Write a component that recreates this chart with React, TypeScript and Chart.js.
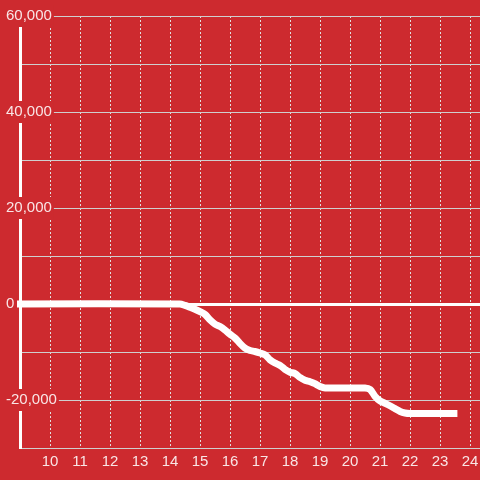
import React, { useEffect, useRef } from "react";
import { Chart, registerables } from "chart.js";

Chart.register(...registerables);

// Time of day (hours) and cumulative value
const hours = [8.9, 14.33, 14.5, 14.67, 14.83, 15.0, 15.17, 15.33, 15.5, 15.67, 15.83, 16.0, 16.17, 16.33, 16.5, 16.67, 16.83, 17.0, 17.17, 17.33, 17.5, 17.67, 17.83, 18.0, 18.17, 18.33, 18.5, 18.67, 18.83, 19.0, 19.17, 20.5, 20.67, 20.83, 21.0, 21.17, 21.33, 21.5, 21.67, 21.83, 22.0, 23.58];
const values = [0, 0, -300, -700, -1100, -1600, -2200, -3300, -4200, -4700, -5400, -6300, -7100, -8200, -9200, -9700, -9900, -10200, -10600, -11600, -12300, -12800, -13600, -14200, -14500, -15300, -15900, -16200, -16600, -17200, -17500, -17500, -17800, -19200, -20200, -20700, -21200, -21800, -22400, -22700, -22800, -22800];

const xMin = 9;
const xMax = 24.333;
const yMin = -30000;
const yMax = 60000;
const yStep = 10000;
const yLabelStep = 20000;

const RED = "#cd2a2f";
const TEXT = "rgba(255,255,255,0.88)";
const FONT = { family: "'Liberation Sans', Arial, sans-serif", size: 15 };

const isLabeled = (v: number) => v % yLabelStep === 0 && v !== yMin;

export default function App() {
  const ref = useRef<HTMLCanvasElement>(null);
  useEffect(() => {
    const canvas = ref.current!;
    const chart = new Chart(canvas, {
      type: "line",
      data: {
        datasets: [
          {
            data: hours.map((h, i) => ({ x: h, y: values[i] })),
            borderColor: "#ffffff",
            borderWidth: 7,
            pointRadius: 0,
            tension: 0.3,
            fill: false,
            clip: false as any,
          },
        ],
      },
      options: {
        animation: false,
        responsive: false,
        devicePixelRatio: 1,
        layout: { padding: { left: 6, top: 16, right: 0, bottom: 0 } },
        plugins: { legend: { display: false }, tooltip: { enabled: false } },
        scales: {
          x: {
            type: "linear",
            min: xMin,
            max: xMax,
            afterFit: (s: any) => {
              s.height = 32;
              s.paddingLeft = 0;
              s.paddingRight = 0;
            },
            ticks: {
              stepSize: 1,
              includeBounds: false,
              color: TEXT,
              font: FONT,
              padding: 5,
              maxRotation: 0,
              autoSkip: false,
              callback: (v: any) => (v === xMin ? "" : String(v)),
            },
            grid: {
              color: "#e0e0e0",
              lineWidth: 1,
              drawTicks: false,
            },
            border: { display: false, dash: [2, 2] },
          },
          y: {
            min: yMin,
            max: yMax,
            afterFit: (s: any) => {
              s.width = 14;
            },
            ticks: {
              stepSize: yStep,
              color: TEXT,
              font: FONT,
              mirror: true,
              padding: -14,
              callback: (v: any) => (isLabeled(Number(v)) ? Number(v).toLocaleString("en-US") : ""),
              showLabelBackdrop: (ctx: any) => !!ctx.tick && isLabeled(ctx.tick.value),
              backdropColor: RED,
              backdropPadding: { left: 2, right: 2, top: 2, bottom: 2 },
            } as any,
            grid: {
              color: (ctx: any) => (ctx.tick && ctx.tick.value === 0 ? "#ffffff" : "#cfcfcf"),
              lineWidth: (ctx: any) => (ctx.tick && ctx.tick.value === 0 ? 3 : 1),
              drawTicks: false,
            },
            border: { display: true, color: "#ffffff", width: 3 },
          },
        },
      },
    });
    return () => chart.destroy();
  }, []);
  return (
    <div style={{ position: "fixed", left: 0, top: 0, width: 480, height: 480, background: RED }}>
      <canvas ref={ref} width={480} height={480} style={{ display: "block", width: 480, height: 480 }} />
    </div>
  );
}
